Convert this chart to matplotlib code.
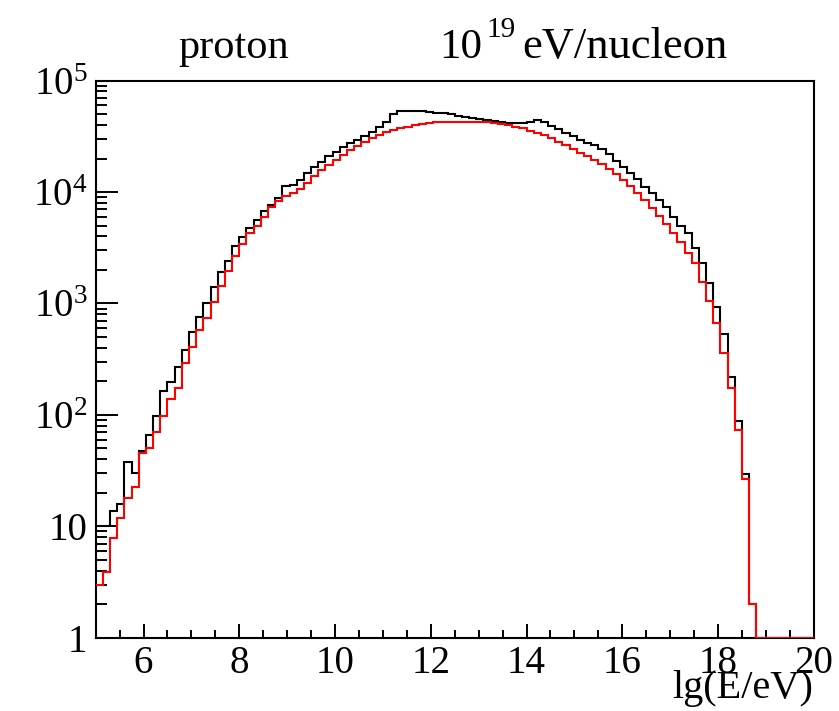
import numpy as np
import matplotlib
matplotlib.use("Agg")
import matplotlib.pyplot as plt
from matplotlib.ticker import FixedLocator, LogLocator, NullFormatter, FuncFormatter

plt.rcParams['font.family'] = ['Liberation Serif', 'DejaVu Serif']
plt.rcParams['mathtext.fontset'] = 'custom'
plt.rcParams['mathtext.rm'] = 'Liberation Serif'
plt.rcParams['mathtext.it'] = 'Liberation Serif:italic'

# histogram binning: 100 bins over lg(E/eV) = 5 .. 20
lg_edges = np.linspace(5, 20, 101)

# black histogram
counts_black = [
    10, 10, 13.7, 15.7, 37.5, 29.9, 47.7, 66, 97.8, 165,
    199, 267, 383, 558, 762, 1004, 1397, 1930, 2421, 3283,
    3927, 4790, 5620, 6770, 7660, 8790, 11350, 11600, 12850, 14750,
    16900, 18740, 21080, 23050, 25600, 27400, 29400, 31900, 34800, 38100,
    42900, 50200, 53500, 53500, 53300, 53000, 52500, 51800, 51000, 49800,
    48500, 47500, 46500, 45300, 44700, 43700, 42900, 42000, 41500, 41700,
    42900, 44100, 42300, 39400, 36600, 33700, 31600, 29400, 27800, 26300,
    24300, 22000, 19100, 16900, 14900, 13000, 11200, 9890, 8490, 7300,
    6010, 4965, 4330, 3130, 2300, 1540, 935, 529, 217, 88.7,
    29.5, 2, 0, 0, 0, 0, 0, 0, 0, 0,
]

# red histogram
counts_red = [
    3, 3.9, 7.8, 11.8, 17.8, 22.4, 45.8, 50, 70.7, 97.8,
    138, 173, 294, 410, 578, 746, 1038, 1436, 1972, 2670,
    3400, 4265, 4965, 6010, 7300, 8370, 9230, 9900, 10600, 12140,
    13950, 15800, 17500, 19400, 21500, 23900, 25900, 28000, 30400, 32600,
    34400, 36100, 37400, 38700, 39800, 40900, 41600, 42200, 42500, 42700,
    42900, 43000, 43000, 42900, 42600, 42000, 41100, 40000, 38700, 37400,
    35600, 33900, 32400, 30400, 28300, 26300, 24300, 22500, 20900, 19300,
    17800, 16000, 14500, 12900, 11400, 9900, 8500, 7250, 6150, 5150,
    4300, 3550, 2860, 2300, 1570, 1060, 664, 361, 173, 73,
    26.6, 2, 0, 0, 0, 0, 0, 0, 0, 0,
]

x_major = [6, 8, 10, 12, 14, 16, 18, 20]
y_labels = {1: '1', 10: '10', 100: r'$\mathregular{10^{2}}$', 1000: r'$\mathregular{10^{3}}$',
            10000: r'$\mathregular{10^{4}}$', 100000: r'$\mathregular{10^{5}}$'}
ymin, ymax = 1, 1e5

fig = plt.figure(figsize=(8.39, 7.11), dpi=100)
ax = fig.add_axes([0.114, 0.1031, 0.856, 0.7834])

# like ROOT, empty bins are drawn on the lower edge of the frame
ax.stairs(np.maximum(counts_black, ymin), lg_edges, baseline=None, color='black',
          linewidth=1.5, zorder=3)
ax.stairs(np.maximum(counts_red, ymin), lg_edges, baseline=None, color='#ff0000',
          linewidth=1.5, zorder=3)

ax.set_yscale('log')
ax.set_xlim(5, 20)
ax.set_ylim(ymin, ymax)

ax.xaxis.set_major_locator(FixedLocator(x_major))
ax.xaxis.set_minor_locator(FixedLocator(np.arange(5.5, 20, 0.5)))
ax.yaxis.set_major_locator(LogLocator(base=10, numticks=10))
ax.yaxis.set_minor_locator(LogLocator(base=10, subs=np.arange(2, 10), numticks=20))
ax.yaxis.set_minor_formatter(NullFormatter())
ax.yaxis.set_major_formatter(FuncFormatter(lambda v, p: y_labels.get(int(round(v)), '')))

for s in ax.spines.values():
    s.set_linewidth(1.5)

ax.tick_params(axis='both', which='both', direction='in', width=1.4, labelsize=28)
ax.tick_params(axis='x', which='major', length=10, pad=5)
ax.tick_params(axis='x', which='minor', length=5.5)
ax.tick_params(axis='y', which='major', length=15.5, pad=6)
ax.tick_params(axis='y', which='minor', length=8)

fig.text(813 / 839, 1 - 698 / 711, 'lg(E/eV)', ha='right', va='baseline', fontsize=29)

# title pieces
fig.text(234 / 839, 1 - 58 / 711, 'proton', ha='center', va='baseline', fontsize=30.5)
fig.text(439 / 839, 1 - 58 / 711, '10', ha='left', va='baseline', fontsize=31)
fig.text(486 / 839, 1 - 37 / 711, '19', ha='left', va='baseline', fontsize=21)
fig.text(522 / 839, 1 - 58 / 711, 'eV/nucleon', ha='left', va='baseline', fontsize=32)

plt.savefig('out.png', dpi=100)
